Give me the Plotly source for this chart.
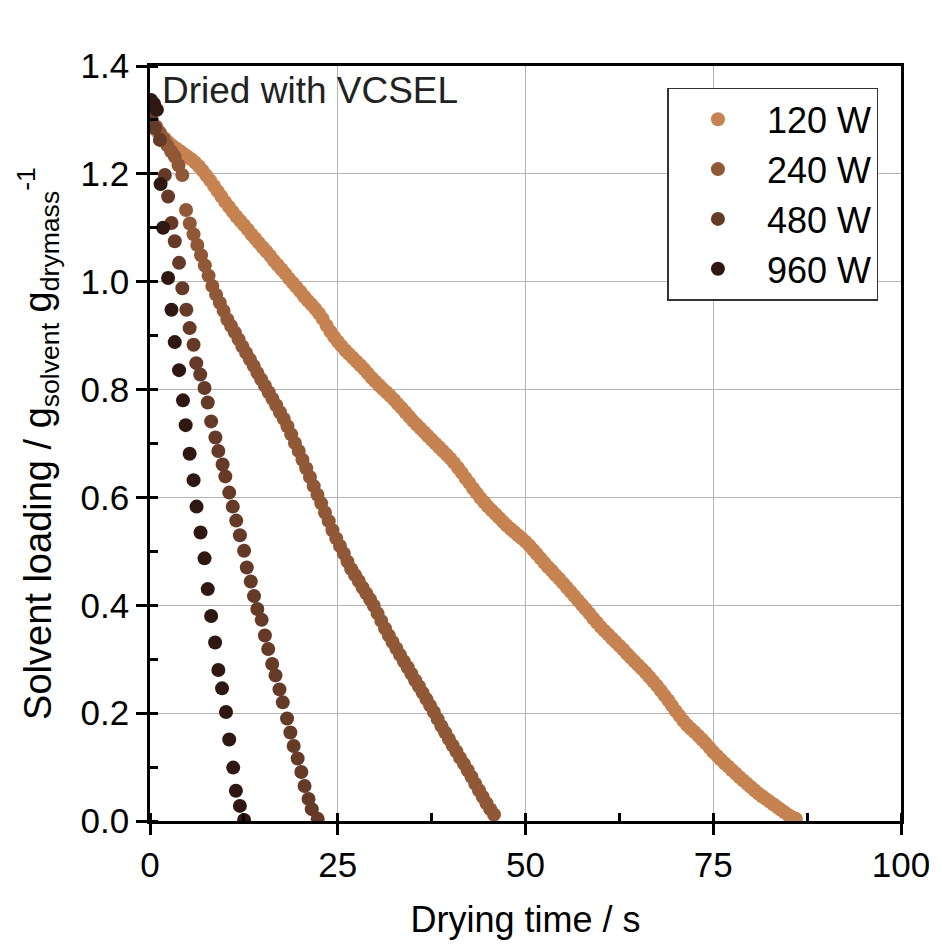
import plotly.graph_objects as go

# drying curves (solvent loading in g/g, time in s)
DT = 0.5  # sampling interval of the dense runs

t0_120 = 0.0
load_120 = [
    1.290, 1.284, 1.278, 1.271, 1.265, 1.258, 1.252, 1.247, 1.242, 1.237,
    1.232, 1.227, 1.221, 1.214, 1.206, 1.197, 1.188, 1.178, 1.168, 1.158,
    1.148, 1.139, 1.130, 1.121, 1.113, 1.105, 1.097, 1.088, 1.080, 1.072,
    1.064, 1.056, 1.048, 1.039, 1.031, 1.023, 1.015, 1.006, 0.998, 0.990,
    0.982, 0.973, 0.965, 0.958, 0.950, 0.941, 0.931, 0.919, 0.908, 0.898,
    0.889, 0.881, 0.873, 0.866, 0.859, 0.852, 0.845, 0.838, 0.830, 0.822,
    0.815, 0.808, 0.801, 0.795, 0.788, 0.781, 0.773, 0.766, 0.758, 0.750,
    0.742, 0.735, 0.728, 0.721, 0.714, 0.707, 0.700, 0.693, 0.686, 0.679,
    0.672, 0.664, 0.655, 0.646, 0.636, 0.627, 0.617, 0.608, 0.599, 0.591,
    0.583, 0.576, 0.569, 0.562, 0.555, 0.548, 0.542, 0.536, 0.530, 0.524,
    0.518, 0.511, 0.503, 0.495, 0.487, 0.479, 0.471, 0.464, 0.456, 0.449,
    0.441, 0.433, 0.425, 0.417, 0.409, 0.401, 0.393, 0.385, 0.376, 0.368,
    0.360, 0.353, 0.346, 0.339, 0.332, 0.325, 0.318, 0.310, 0.303, 0.296,
    0.289, 0.282, 0.275, 0.267, 0.259, 0.251, 0.242, 0.233, 0.224, 0.214,
    0.204, 0.195, 0.186, 0.178, 0.171, 0.165, 0.158, 0.151, 0.144, 0.136,
    0.128, 0.121, 0.114, 0.107, 0.101, 0.094, 0.088, 0.081, 0.075, 0.069,
    0.063, 0.057, 0.051, 0.046, 0.041, 0.036, 0.031, 0.026, 0.021, 0.016,
    0.011, 0.007, 0.004,
]

t0_240 = 0.3
load_240 = [
    1.298, 1.288, 1.277, 1.265, 1.253, 1.242, 1.232, 1.216, 1.198, 1.133,
    1.108, 1.088, 1.068, 1.049, 1.030, 1.011, 0.992, 0.976, 0.961, 0.946,
    0.930, 0.918, 0.906, 0.893, 0.880, 0.868, 0.856, 0.844, 0.831, 0.819,
    0.807, 0.795, 0.783, 0.771, 0.758, 0.746, 0.732, 0.717, 0.701, 0.686,
    0.670, 0.654, 0.638, 0.621, 0.605, 0.589, 0.572, 0.556, 0.539, 0.524,
    0.510, 0.496, 0.481, 0.467, 0.456, 0.445, 0.433, 0.422, 0.411, 0.399,
    0.385, 0.371, 0.357, 0.344, 0.332, 0.320, 0.308, 0.296, 0.285, 0.273,
    0.261, 0.250, 0.238, 0.226, 0.214, 0.202, 0.189, 0.176, 0.164, 0.152,
    0.140, 0.129, 0.117, 0.106, 0.094, 0.082, 0.069, 0.057, 0.045, 0.033,
    0.022, 0.012,
]

time_480 = [
    0.13, 0.66, 1.32, 1.98, 2.41, 2.86, 3.30, 3.87, 4.31, 4.84,
    5.28, 5.80, 6.16, 6.69, 7.26, 7.69, 8.14, 8.71, 9.10, 9.67,
    10.03, 10.55, 11.02, 11.48, 11.97, 12.53, 12.89, 13.42, 13.85, 14.29,
    14.87, 15.30, 15.74, 16.27, 16.71, 17.24, 17.68, 18.25, 18.69, 19.13,
    19.66, 20.15, 20.58, 21.11, 21.54, 22.33,
]
load_480 = [
    1.304, 1.285, 1.263, 1.198, 1.158, 1.109, 1.075, 1.035, 0.988, 0.948,
    0.914, 0.883, 0.849, 0.828, 0.803, 0.776, 0.741, 0.711, 0.686, 0.661,
    0.639, 0.609, 0.583, 0.557, 0.530, 0.501, 0.470, 0.444, 0.417, 0.393,
    0.373, 0.344, 0.319, 0.291, 0.270, 0.244, 0.220, 0.190, 0.164, 0.139,
    0.116, 0.091, 0.065, 0.041, 0.022, 0.004,
]

time_960 = [
    0.13, 0.53, 0.92, 1.41, 1.75, 2.41, 2.86, 3.30, 3.87, 4.39,
    4.75, 5.28, 5.80, 6.20, 6.73, 7.26, 7.69, 8.14, 8.67, 9.10,
    9.59, 10.12, 10.55, 11.08, 11.44, 11.97, 12.53,
]
load_960 = [
    1.337, 1.330, 1.319, 1.181, 1.100, 1.007, 0.948, 0.888, 0.836, 0.780,
    0.734, 0.681, 0.632, 0.583, 0.535, 0.487, 0.430, 0.380, 0.331, 0.280,
    0.246, 0.202, 0.151, 0.099, 0.056, 0.028, 0.002,
]

time_120 = [t0_120 + DT * i for i in range(len(load_120))]
time_240 = [t0_240 + DT * i for i in range(len(load_240))]

labels = ['120 W', '240 W', '480 W', '960 W']
colors = ['#C68351', '#915837', '#663A28', '#2F1811']
series = [(time_120, load_120), (time_240, load_240),
          (time_480, load_480), (time_960, load_960)]

FONT = 'Liberation Sans, Arial, sans-serif'

fig = go.Figure()
for name, col, (tx, ly) in zip(labels, colors, series):
    fig.add_trace(go.Scatter(
        x=tx, y=ly, name=name, mode='markers',
        marker=dict(color=col, size=14, line=dict(width=0)),
    ))

axis_common = dict(
    showline=True, linecolor='black', linewidth=2.5, mirror=True,
    ticks='outside', ticklen=11, tickwidth=2.5, tickcolor='black',
    showgrid=True, gridcolor='#b4b4b4', gridwidth=1, zeroline=False,
    tickfont=dict(size=35, color='black'),
)

# the page body adds an 8px offset, so the figure is 8px smaller than the window
fig.update_layout(
    width=934, height=938,
    margin=dict(l=142, r=36, t=58, b=124),
    paper_bgcolor='white', plot_bgcolor='white',
    font=dict(family=FONT, size=35, color='black'),
    xaxis=dict(
        range=[0, 100], tick0=0, dtick=25,
        minor=dict(dtick=12.5, ticks='inside', ticklen=8, tickwidth=2.5,
                   tickcolor='black', showgrid=False),
        title=dict(text='Drying time / s', font=dict(size=36), standoff=25),
        **axis_common,
    ),
    yaxis=dict(
        range=[0, 1.4], tick0=0, dtick=0.2, tickformat='.1f',
        minor=dict(dtick=0.1, ticks='inside', ticklen=8, tickwidth=2.5,
                   tickcolor='black', showgrid=False),
        title=dict(
            text='Solvent loading / g<sub>solvent</sub> g<sub>drymass</sub><sup>-1</sup>',
            font=dict(size=38), standoff=18),
        **axis_common,
    ),
    # second pair of axes only to draw the inner half of the major ticks
    xaxis2=dict(
        overlaying='x', anchor='y', side='bottom', range=[0, 100], tick0=0, dtick=25,
        ticks='inside', ticklen=11, tickwidth=2.5, tickcolor='black',
        showticklabels=False, showgrid=False, showline=False, zeroline=False,
    ),
    yaxis2=dict(
        overlaying='y', anchor='x', side='left', range=[0, 1.4], tick0=0, dtick=0.2,
        ticks='inside', ticklen=11, tickwidth=2.5, tickcolor='black',
        showticklabels=False, showgrid=False, showline=False, zeroline=False,
    ),
    legend=dict(
        x=0.689, y=0.971, xanchor='left', yanchor='top',
        bordercolor='#333333', borderwidth=1.5, bgcolor='white',
        font=dict(size=36, color='black'), tracegroupgap=0,
        itemwidth=88,
    ),
    annotations=[dict(
        text='Dried with VCSEL', xref='paper', yref='paper',
        x=0.013, y=0.967, xanchor='left', yanchor='middle', showarrow=False,
        font=dict(size=37, color='#222222'),
    )],
)

fig.write_html('out.html')
